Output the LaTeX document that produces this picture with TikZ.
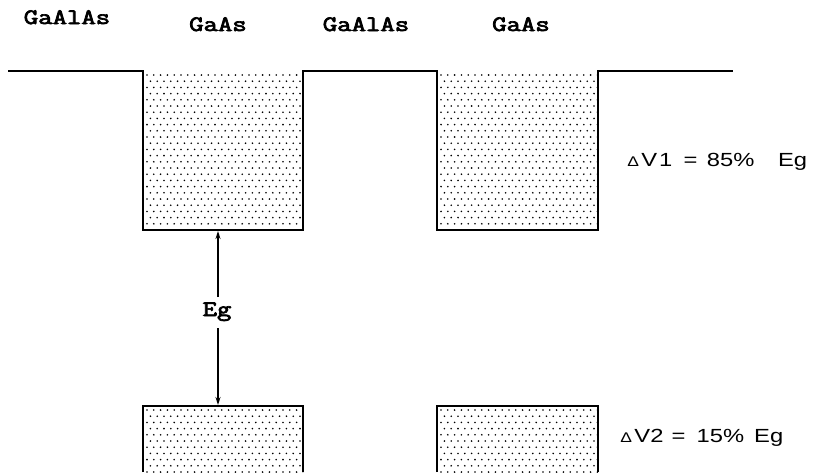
\documentclass[tikz,border=0pt]{standalone}
\usepackage{fontspec}
\setmainfont{Liberation Sans}
\newfontfamily\typew{Latin Modern Mono}[FakeBold=3]
\usetikzlibrary{arrows.meta}
\tikzset{
  band/.style={line width=1.4pt, line join=miter},
  lay/.style={font=\typew\fontsize{22}{22}\selectfont, xscale=1.27, inner sep=0pt, anchor=base},
  side/.style={font=\fontsize{19}{19}\selectfont, xscale=1.25, inner sep=0pt, anchor=base west},
  gapar/.style={line width=1.2pt, -{Stealth[length=8pt,width=5pt]}},
  dot/.style={fill=black}
}
\newcommand{\tri}{{\fontsize{14}{14}\selectfont Δ}}
\newcommand{\stipple}[4]{% x0 y0 x1 y1
  \begin{scope}
    \clip (#1,#2) rectangle (#3,#4);
    \foreach \r in {0,...,30} {
      \pgfmathsetmacro{\yy}{#2+4+\r*6.2}
      \pgfmathsetmacro{\off}{mod(\r,2)*3.4}
      \foreach \c in {0,...,24} {
        \fill[dot] ({#1+4+\off+\c*6.8},\yy) circle (0.9);
      }
    }
  \end{scope}}
\begin{document}
\begin{tikzpicture}[x=1pt,y=-1pt]
\useasboundingbox (0,0) rectangle (813,472);
% dotted fills
\stipple{143}{71}{303}{230}
\stipple{437}{71}{598}{230}
\stipple{143}{406}{303}{472}
\stipple{437}{406}{598}{472}
% conduction band profile
\draw[band] (8,71) -- (143,71) -- (143,230) -- (303,230) -- (303,71) -- (437,71) -- (437,230) -- (598,230) -- (598,71) -- (733,71);
% valence band wells
\draw[band] (143,472) -- (143,406) -- (303,406) -- (303,472);
\draw[band] (437,472) -- (437,406) -- (598,406) -- (598,472);
% labels
\node[lay] (l1) at (67,24) {GaAlAs};
\node[lay] (l2) at (218,31) {GaAs};
\node[lay] (l3) at (366,31) {GaAlAs};
\node[lay] (l4) at (521,31) {GaAs};
% Eg arrow
\coordinate (ctop) at (218,231);
\coordinate (vbot) at (218,405);
\node[lay] (eg) at (217,316) {Eg};
\coordinate (eT) at (218,297);
\coordinate (eB) at (218,328);
\draw[gapar] (eT) -- (ctop);
\draw[gapar] (eB) -- (vbot);
% offsets
\node[side] (dv1) at (627,166) {\tri\hspace{2pt}V\hspace{1.5pt}1\hspace{9pt}=\hspace{7.5pt}85\%\hspace{19pt}Eg};
\node[side] (dv2) at (620,442) {\tri\hspace{2pt}V2\hspace{6.5pt}=\hspace{9pt}15\%\hspace{8pt}Eg};
\end{tikzpicture}
\end{document}
